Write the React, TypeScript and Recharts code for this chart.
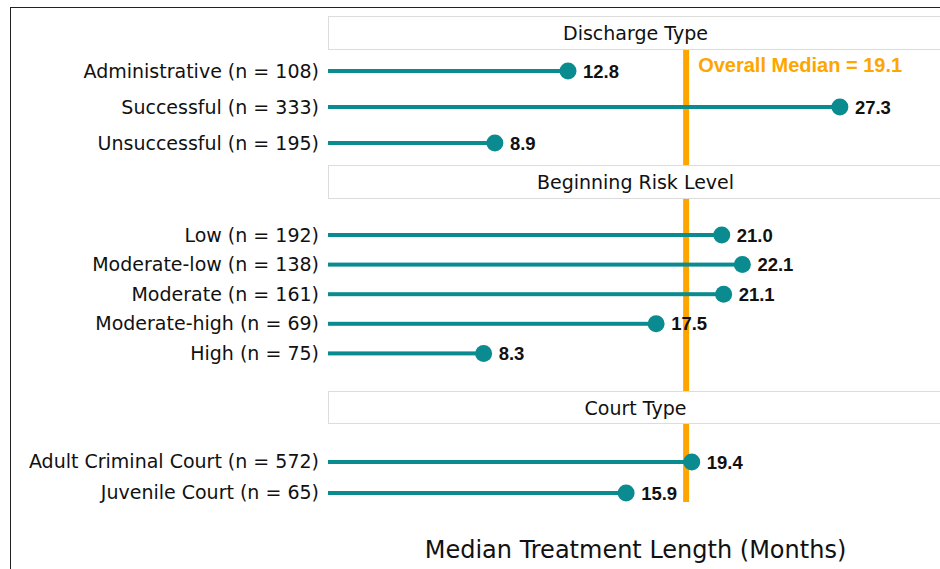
import { BarChart, Bar, XAxis, YAxis, ReferenceLine, LabelList } from "recharts";

const dischargeTypes = ["Administrative (n = 108)", "Successful (n = 333)", "Unsuccessful (n = 195)"];
const dischargeMonths = [12.8, 27.3, 8.9];

const riskLevels = [
  "Low (n = 192)",
  "Moderate-low (n = 138)",
  "Moderate (n = 161)",
  "Moderate-high (n = 69)",
  "High (n = 75)",
];
const riskMonths = [21.0, 22.1, 21.1, 17.5, 8.3];

const courtTypes = ["Adult Criminal Court (n = 572)", "Juvenile Court (n = 65)"];
const courtMonths = [19.4, 15.9];

const facetTitles = ["Discharge Type", "Beginning Risk Level", "Court Type"];
const overallMedian = 19.1;
const xTitle = "Median Treatment Length (Months)";

const W = 943;
const TEAL = "#0a8b90";
const ORANGE = "#FFA500";
const FONT = "'DejaVu Sans', Verdana, sans-serif";
const ARIAL = "'Liberation Sans', Arial, sans-serif";

function Lollipop(props: any) {
  const { x, y, width, height } = props;
  const cy = y + height / 2;
  return (
    <g>
      <rect x={x} y={cy - 2} width={Math.max(width, 0)} height={4} fill={TEAL} />
      <circle cx={x + width} cy={cy} r={8.5} fill={TEAL} />
    </g>
  );
}

function MedianLabel(props: any) {
  const vb = props.viewBox || { x: 0, y: 0 };
  return (
    <text
      x={vb.x + 12}
      y={vb.y + 15}
      dominantBaseline="central"
      fill={ORANGE}
      fontSize={20}
      fontWeight="bold"
      fontFamily={ARIAL}
    >
      Overall Median = {overallMedian}
    </text>
  );
}

function Strip({ title, top, height }: { title: string; top: number; height: number }) {
  return (
    <div
      style={{
        position: "absolute",
        left: 328,
        top,
        width: 615,
        height,
        boxSizing: "border-box",
        border: "1px solid #dcdcdc",
        background: "#fff",
        display: "flex",
        alignItems: "center",
        justifyContent: "center",
        fontFamily: FONT,
        fontSize: 19,
        color: "#111",
      }}
    >
      {title}
    </div>
  );
}

// lineSpan: how far down the median line runs inside the panel
function Panel({ rows, values, top, height, pad, showLabel, lineSpan }: any) {
  const data = rows.map((label: string, i: number) => ({ label, months: values[i] }));
  const medianShape = (p: any) => {
    const yTop = Math.min(p.y1, p.y2);
    const yBot = Math.max(p.y1, p.y2);
    return (
      <line
        x1={p.x1}
        x2={p.x2}
        y1={yTop}
        y2={lineSpan ? Math.min(yBot, yTop + lineSpan) : yBot}
        stroke={ORANGE}
        strokeWidth={6}
      />
    );
  };
  return (
    <div style={{ position: "absolute", left: 0, top, width: W, height }}>
      <BarChart
        width={W}
        height={height}
        data={data}
        layout="vertical"
        margin={{ top: 0, right: 0, bottom: 0, left: 0 }}
      >
        <XAxis type="number" domain={[0, 32.8]} hide />
        <YAxis
          type="category"
          dataKey="label"
          width={328}
          axisLine={false}
          tickLine={false}
          tickSize={0}
          tickMargin={9}
          interval={0}
          padding={pad}
          tick={{ fill: "#111", fontSize: 19, fontFamily: FONT }}
        />
        <ReferenceLine
          x={overallMedian}
          stroke={ORANGE}
          strokeWidth={6}
          zIndex={-10}
          shape={medianShape}
          label={showLabel ? <MedianLabel /> : undefined}
        />
        <Bar dataKey="months" barSize={4} shape={Lollipop} isAnimationActive={false}>
          <LabelList
            dataKey="months"
            position="right"
            offset={15}
            formatter={(v: any) => Number(v).toFixed(1)}
            style={{ fill: "#111", fontSize: 18.5, fontWeight: "bold", fontFamily: ARIAL }}
          />
        </Bar>
      </BarChart>
    </div>
  );
}

export default function App() {
  return (
    <div
      style={{
        position: "absolute",
        left: 0,
        top: 0,
        width: 940,
        height: 569,
        overflow: "hidden",
        background: "#fff",
      }}
    >
      <div
        style={{
          position: "absolute",
          left: 10,
          top: 7,
          width: 940,
          height: 570,
          borderTop: "1px solid #222",
          borderLeft: "1px solid #222",
        }}
      />
      <Strip title={facetTitles[0]} top={16} height={34} />
      <Panel rows={dischargeTypes} values={dischargeMonths} top={50} height={115} pad={{ top: 3, bottom: 4 }} showLabel />
      <Strip title={facetTitles[1]} top={165} height={34} />
      <Panel rows={riskLevels} values={riskMonths} top={199} height={192} pad={{ top: 21, bottom: 23 }} />
      <Strip title={facetTitles[2]} top={391} height={33} />
      <Panel
        rows={courtTypes}
        values={courtMonths}
        top={424}
        height={100}
        pad={{ top: 22, bottom: 16 }}
        lineSpan={78}
      />
      <div
        style={{
          position: "absolute",
          left: 328,
          top: 535,
          width: 615,
          height: 30,
          lineHeight: "30px",
          textAlign: "center",
          fontFamily: FONT,
          fontSize: 24,
          color: "#111",
        }}
      >
        {xTitle}
      </div>
    </div>
  );
}
